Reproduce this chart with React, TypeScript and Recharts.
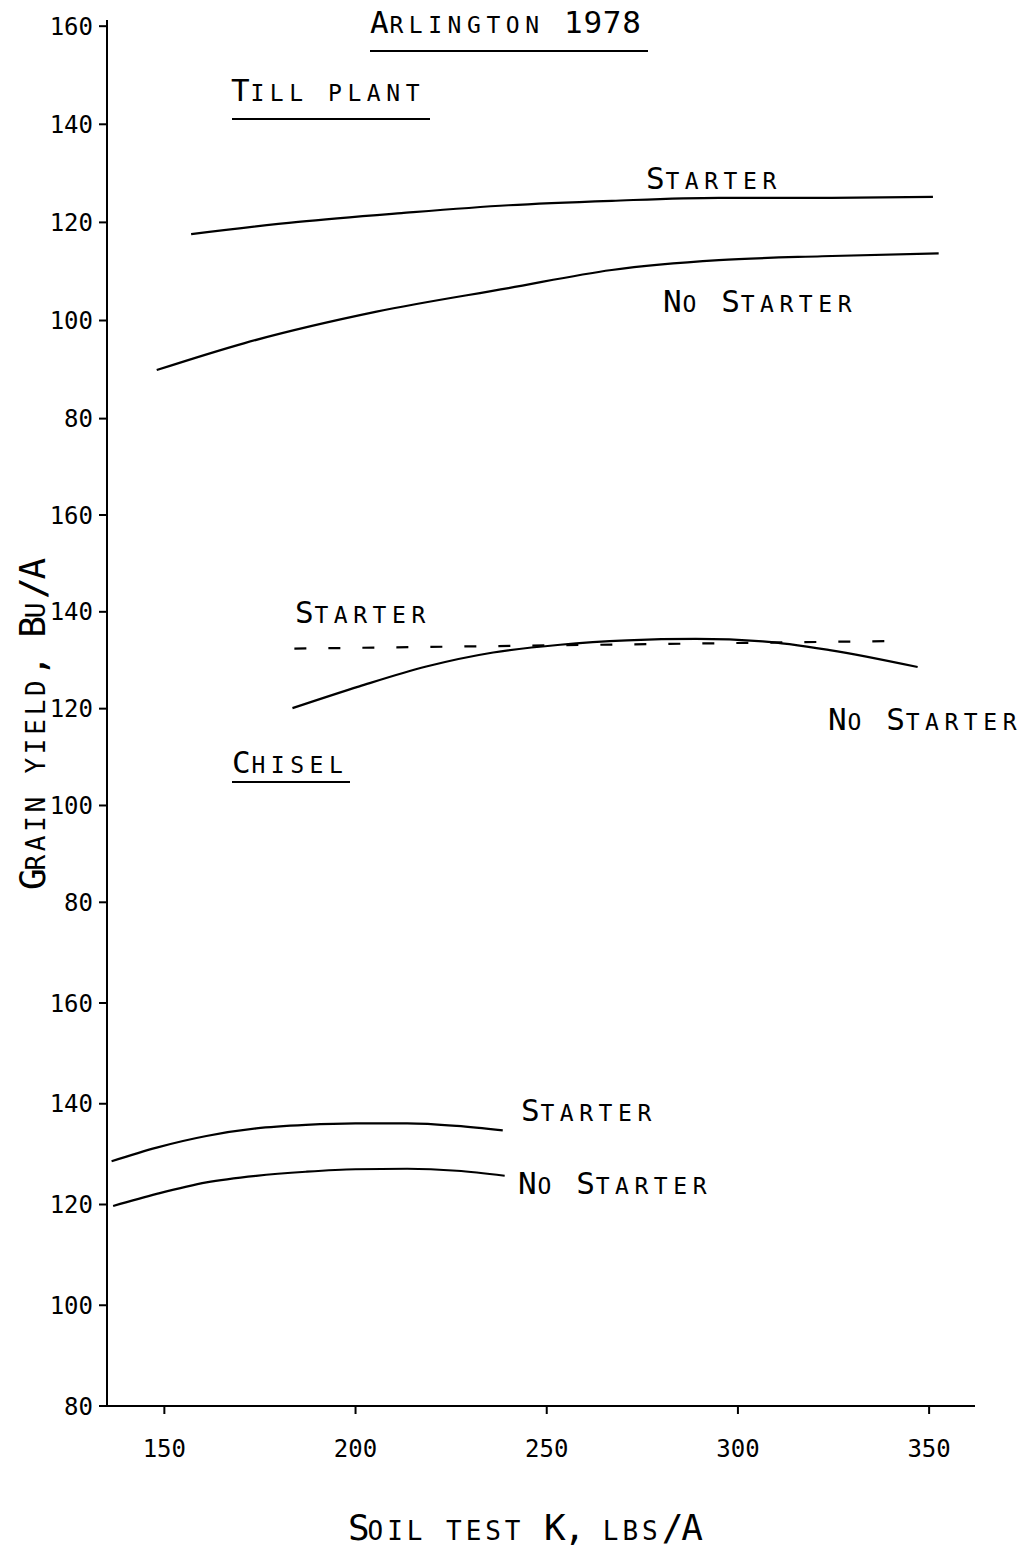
import { LineChart, Line, XAxis, YAxis } from "recharts"

// Soil test K (lbs/A) on x, grain yield (Bu/A) on y
const K_TICKS = [150, 200, 250, 300, 350]
const YIELD_TICKS = [80, 100, 120, 140, 160]

// Till plant
const tillStarterK = [157, 185, 212, 240, 267, 295, 322, 351]
const tillStarterY = [117.6, 120.1, 121.9, 123.5, 124.4, 125.0, 125.0, 125.2]
const tillNoStarterK = [148, 171, 205.5, 240, 267, 295, 322, 352.5]
const tillNoStarterY = [89.9, 95.4, 101.8, 106.6, 110.3, 112.3, 113.1, 113.7]

// Chisel
const chiselStarterK = [184, 264, 343.5]
const chiselStarterY = [132.4, 133.2, 134.0]
const chiselNoStarterK = [183.5, 201, 218.5, 236, 253.5, 271, 289, 306.5, 324, 347]
const chiselNoStarterY = [120.1, 124.6, 128.7, 131.6, 133.2, 134.1, 134.4, 133.9, 132.1, 128.6]

// bottom panel (no tillage label)
const lowStarterK = [136.2, 148, 161, 174, 187, 200, 213.5, 226.5, 238.5]
const lowStarterY = [128.6, 131.3, 133.6, 135.1, 135.8, 136.1, 136.1, 135.6, 134.7]
const lowNoStarterK = [136.6, 148, 161, 174, 187, 200, 213.5, 226.5, 239]
const lowNoStarterY = [119.7, 122.1, 124.4, 125.7, 126.5, 127.0, 127.1, 126.7, 125.7]

const MONO = '"DejaVu Sans Mono", monospace'
const INK = "#000"

const pairs = (ks: number[], ys: number[]) => ks.map((k, i) => ({ k, y: ys[i] }))

interface Series {
  data: { k: number; y: number }[]
  dashed?: boolean
  smooth?: boolean
}

interface PanelProps {
  top: number
  height: number
  yDomain: [number, number]
  series: Series[]
  showX?: boolean
}

function Panel({ top, height, yDomain, series, showX }: PanelProps) {
  return (
    <div style={{ position: "absolute", left: 0, top }}>
      <LineChart width={1034} height={height} margin={{ top: 20, right: 59, bottom: 0, left: 0 }}>
        <XAxis
          type="number"
          dataKey="k"
          domain={[135, 362]}
          ticks={K_TICKS}
          interval={0}
          allowDataOverflow
          hide={!showX}
          height={144}
          axisLine={{ stroke: INK, strokeWidth: 2 }}
          tickLine={{ stroke: INK, strokeWidth: 2 }}
          tickSize={8}
          tickMargin={26}
          tick={{ fontSize: 24, fill: INK, fontFamily: MONO }}
        />
        <YAxis
          type="number"
          domain={yDomain}
          ticks={YIELD_TICKS}
          interval={0}
          allowDataOverflow
          width={107}
          axisLine={{ stroke: INK, strokeWidth: 2 }}
          tickLine={{ stroke: INK, strokeWidth: 2 }}
          tickSize={8}
          tickMargin={6}
          tick={{ fontSize: 24, fill: INK, fontFamily: MONO }}
        />
        {series.map((s, i) => (
          <Line
            key={i}
            data={s.data}
            dataKey="y"
            type={s.smooth === false ? "linear" : "monotone"}
            stroke={INK}
            strokeWidth={2.2}
            strokeDasharray={s.dashed ? "12 22" : undefined}
            dot={false}
            isAnimationActive={false}
          />
        ))}
      </LineChart>
    </div>
  )
}

interface LetteringProps {
  text: string
  x: number
  baseline: number
  big?: number
  small?: number
  advance?: number
  vertical?: boolean
}

// hand-lettering look: capitals big, lowercase drawn as small caps, fixed pitch
function Lettering({ text, x, baseline, big = 31, small = 23, advance = 19.4, vertical }: LetteringProps) {
  const runs: { s: string; lower: boolean }[] = []
  for (const ch of text) {
    const lower = ch >= "a" && ch <= "z"
    const last = runs[runs.length - 1]
    if (last && last.lower === lower) last.s += ch
    else runs.push({ s: ch, lower })
  }
  const pos = vertical
    ? { left: baseline - 0.846 * big, top: x, transform: "rotate(-90deg)", transformOrigin: "0 0" }
    : { left: x, top: baseline - 0.846 * big }
  return (
    <div
      style={{
        position: "absolute",
        ...pos,
        fontFamily: MONO,
        fontSize: big,
        lineHeight: 1,
        whiteSpace: "pre",
        color: INK,
      }}
    >
      {runs.map((r, i) => (
        <span
          key={i}
          style={
            r.lower
              ? { fontSize: small, letterSpacing: advance - 0.602 * small, textTransform: "uppercase" }
              : { letterSpacing: advance - 0.602 * big }
          }
        >
          {r.s}
        </span>
      ))}
    </div>
  )
}

function Rule({ x, y, w }: { x: number; y: number; w: number }) {
  return <div style={{ position: "absolute", left: x, top: y, width: w, height: 2, background: INK }} />
}

export default function App() {
  return (
    <div style={{ position: "absolute", left: 0, top: 0, width: 1034, height: 1550, background: "#fff" }}>
      <Panel
        top={0}
        height={515}
        yDomain={[60.35, 161.26]}
        series={[
          { data: pairs(tillStarterK, tillStarterY) },
          { data: pairs(tillNoStarterK, tillNoStarterY) },
        ]}
      />
      <Panel
        top={495}
        height={508}
        yDomain={[59.2, 160]}
        series={[
          { data: pairs(chiselStarterK, chiselStarterY), dashed: true, smooth: false },
          { data: pairs(chiselNoStarterK, chiselNoStarterY) },
        ]}
      />
      <Panel
        top={983}
        height={567}
        yDomain={[80, 160]}
        showX
        series={[
          { data: pairs(lowStarterK, lowStarterY) },
          { data: pairs(lowNoStarterK, lowNoStarterY) },
        ]}
      />

      <Lettering text="Arlington 1978" x={370} baseline={33} />
      <Rule x={370} y={50} w={278} />
      <Lettering text="Till plant" x={231} baseline={101} />
      <Rule x={232} y={118} w={198} />

      <Lettering text="Starter" x={646} baseline={189} />
      <Lettering text="No Starter" x={663} baseline={312} />

      <Lettering text="Starter" x={295} baseline={623} />
      <Lettering text="No Starter" x={828} baseline={730} />
      <Lettering text="Chisel" x={232} baseline={773} />
      <Rule x={232} y={781} w={118} />

      <Lettering text="Starter" x={521} baseline={1121} />
      <Lettering text="No Starter" x={518} baseline={1194} />

      <Lettering text="Grain yield, Bu/A" x={890} baseline={45} big={36} small={26} vertical />
      <Lettering text="Soil test K, lbs/A" x={348} baseline={1540} big={36} small={26} advance={19.6} />
    </div>
  )
}
